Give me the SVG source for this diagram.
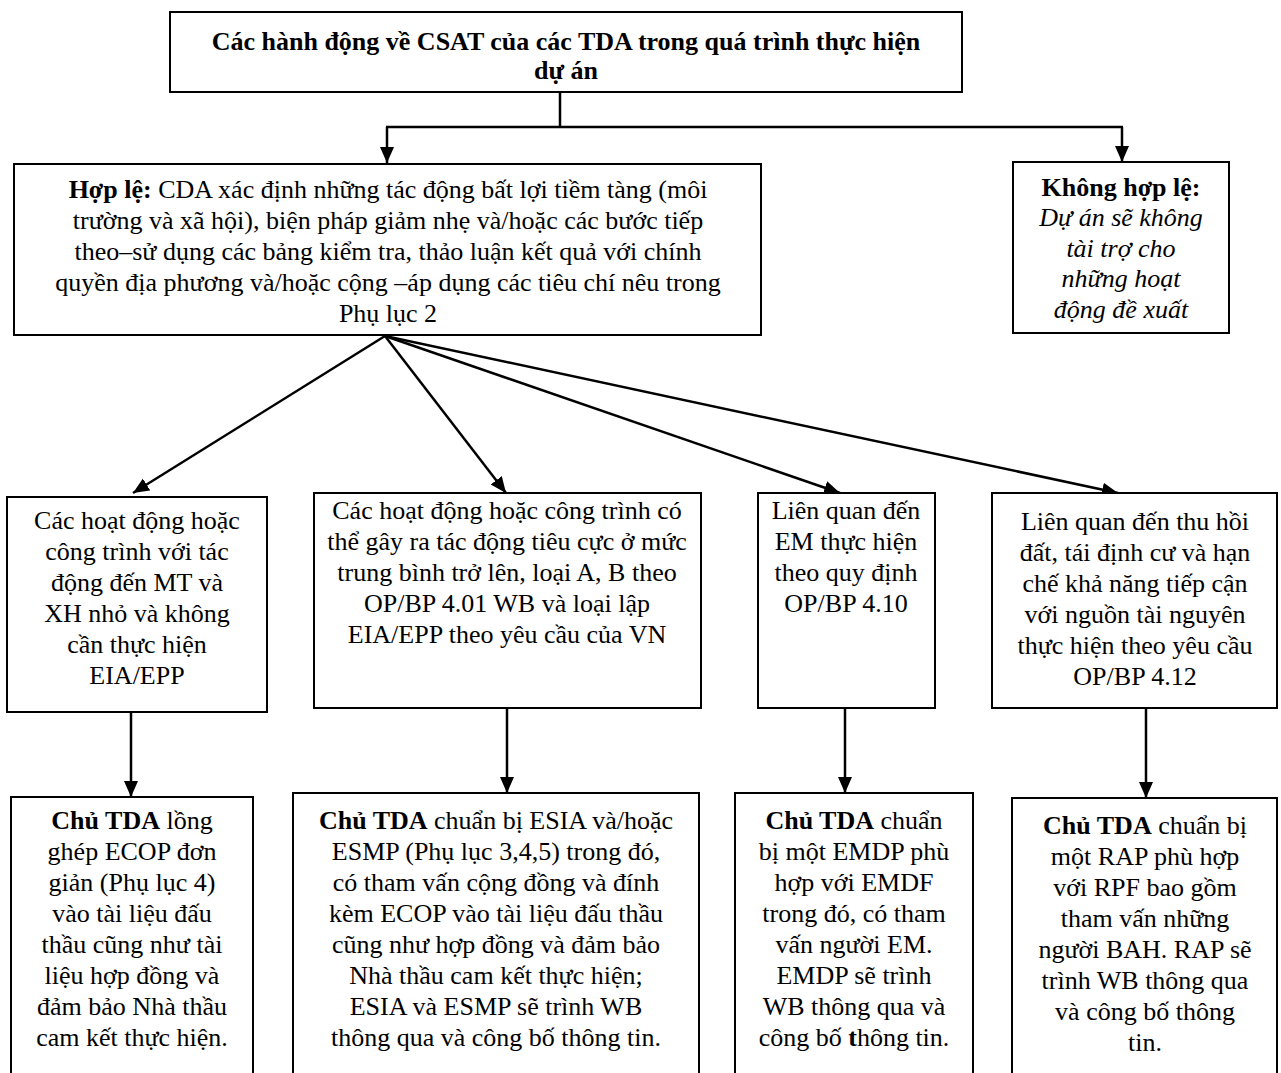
<svg xmlns="http://www.w3.org/2000/svg" width="1281" height="1073" viewBox="0 0 1281 1073">
<style>
.box{fill:#fff;stroke:#000;stroke-width:2}
.t{font-family:"Liberation Serif","Times New Roman",serif;font-size:26px;fill:#000;text-anchor:middle}
.b{font-weight:bold}
.i{font-style:italic}
.c{fill:none;stroke:#000;stroke-width:2.5}
</style>
<defs>
<marker id="ah" markerUnits="userSpaceOnUse" markerWidth="17" markerHeight="15" refX="16" refY="7" orient="auto">
<path d="M0,0 L16,7 L0,14 Z" fill="#000"/>
</marker>
</defs>
<rect width="1281" height="1073" fill="#fff"/>

<g id="connectors">
<line class="c" x1="560" y1="92" x2="560" y2="127"/>
<line class="c" x1="386" y1="127" x2="1123" y2="127"/>
<line class="c" x1="387" y1="127" x2="387" y2="163" marker-end="url(#ah)"/>
<line class="c" x1="1122" y1="127" x2="1122" y2="162" marker-end="url(#ah)"/>
<line class="c" x1="385" y1="336" x2="133" y2="493" marker-end="url(#ah)"/>
<line class="c" x1="385" y1="336" x2="506" y2="493" marker-end="url(#ah)"/>
<line class="c" x1="385" y1="336" x2="840" y2="493" marker-end="url(#ah)"/>
<line class="c" x1="385" y1="336" x2="1118" y2="493" marker-end="url(#ah)"/>
<line class="c" x1="131" y1="704" x2="131" y2="797" marker-end="url(#ah)"/>
<line class="c" x1="507" y1="708" x2="507" y2="793" marker-end="url(#ah)"/>
<line class="c" x1="845" y1="705" x2="845" y2="793" marker-end="url(#ah)"/>
<line class="c" x1="1146" y1="708" x2="1146" y2="798" marker-end="url(#ah)"/>
</g>

<g id="top">
<rect class="box" x="170" y="12" width="792" height="80"/>
<text class="t b" x="566" y="50">Các hành động về CSAT của các TDA trong quá trình thực hiện</text>
<text class="t b" x="566" y="79">dự án</text>
</g>

<g id="hople">
<rect class="box" x="14" y="164" width="747" height="171"/>
<text class="t" x="388" y="198"><tspan class="b">Hợp lệ:</tspan> CDA xác định những tác động bất lợi tiềm tàng (môi</text>
<text class="t" x="388" y="229">trường và xã hội), biện pháp giảm nhẹ và/hoặc các bước tiếp</text>
<text class="t" x="388" y="260">theo–sử dụng các bảng kiểm tra, thảo luận kết quả với chính</text>
<text class="t" x="388" y="291">quyền địa phương và/hoặc cộng –áp dụng các tiêu chí nêu trong</text>
<text class="t" x="388" y="322">Phụ lục 2</text>
</g>

<g id="khonghople">
<rect class="box" x="1013" y="162" width="216" height="171"/>
<text class="t b" x="1121" y="196">Không hợp lệ:</text>
<text class="t i" x="1121" y="226">Dự án sẽ không</text>
<text class="t i" x="1121" y="257">tài trợ cho</text>
<text class="t i" x="1121" y="287">những hoạt</text>
<text class="t i" x="1121" y="318">động đề xuất</text>
</g>

<g id="boxA">
<rect class="box" x="7" y="497" width="260" height="215"/>
<text class="t" x="137" y="529">Các hoạt động hoặc</text>
<text class="t" x="137" y="560">công trình với tác</text>
<text class="t" x="137" y="591">động đến MT và</text>
<text class="t" x="137" y="622">XH nhỏ và không</text>
<text class="t" x="137" y="653">cần thực hiện</text>
<text class="t" x="137" y="684">EIA/EPP</text>
</g>

<g id="boxB">
<rect class="box" x="314" y="493" width="387" height="215"/>
<text class="t" x="507" y="519">Các hoạt động hoặc công trình có</text>
<text class="t" x="507" y="550">thể gây ra tác động tiêu cực ở mức</text>
<text class="t" x="507" y="581">trung bình trở lên, loại A, B theo</text>
<text class="t" x="507" y="612">OP/BP 4.01 WB và loại lập</text>
<text class="t" x="507" y="643">EIA/EPP theo yêu cầu của VN</text>
</g>

<g id="boxC">
<rect class="box" x="758" y="493" width="177" height="215"/>
<text class="t" x="846" y="519">Liên quan đến</text>
<text class="t" x="846" y="550">EM thực hiện</text>
<text class="t" x="846" y="581">theo quy định</text>
<text class="t" x="846" y="612">OP/BP 4.10</text>
</g>

<g id="boxD">
<rect class="box" x="992" y="493" width="285" height="215"/>
<text class="t" x="1135" y="530">Liên quan đến thu hồi</text>
<text class="t" x="1135" y="561">đất, tái định cư và hạn</text>
<text class="t" x="1135" y="592">chế khả năng tiếp cận</text>
<text class="t" x="1135" y="623">với nguồn tài nguyên</text>
<text class="t" x="1135" y="654">thực hiện theo yêu cầu</text>
<text class="t" x="1135" y="685">OP/BP 4.12</text>
</g>

<g id="boxA2">
<rect class="box" x="11" y="797" width="242" height="290"/>
<text class="t" x="132" y="829"><tspan class="b">Chủ TDA</tspan> lồng</text>
<text class="t" x="132" y="860">ghép ECOP đơn</text>
<text class="t" x="132" y="891">giản (Phụ lục 4)</text>
<text class="t" x="132" y="922">vào tài liệu đấu</text>
<text class="t" x="132" y="953">thầu cũng như tài</text>
<text class="t" x="132" y="984">liệu hợp đồng và</text>
<text class="t" x="132" y="1015">đảm bảo Nhà thầu</text>
<text class="t" x="132" y="1046">cam kết thực hiện.</text>
</g>

<g id="boxB2">
<rect class="box" x="293" y="793" width="406" height="294"/>
<text class="t" x="496" y="829"><tspan class="b">Chủ TDA</tspan> chuẩn bị ESIA và/hoặc</text>
<text class="t" x="496" y="860">ESMP (Phụ lục 3,4,5) trong đó,</text>
<text class="t" x="496" y="891">có tham vấn cộng đồng và đính</text>
<text class="t" x="496" y="922">kèm ECOP vào tài liệu đấu thầu</text>
<text class="t" x="496" y="953">cũng như hợp đồng và đảm bảo</text>
<text class="t" x="496" y="984">Nhà thầu cam kết thực hiện;</text>
<text class="t" x="496" y="1015">ESIA và ESMP sẽ trình WB</text>
<text class="t" x="496" y="1046">thông qua và công bố thông tin.</text>
</g>

<g id="boxC2">
<rect class="box" x="735" y="793" width="238" height="294"/>
<text class="t" x="854" y="829"><tspan class="b">Chủ TDA</tspan> chuẩn</text>
<text class="t" x="854" y="860">bị một EMDP phù</text>
<text class="t" x="854" y="891">hợp với EMDF</text>
<text class="t" x="854" y="922">trong đó, có tham</text>
<text class="t" x="854" y="953">vấn người EM.</text>
<text class="t" x="854" y="984">EMDP sẽ trình</text>
<text class="t" x="854" y="1015">WB thông qua và</text>
<text class="t" x="854" y="1046">công bố <tspan class="b">t</tspan>hông tin.</text>
</g>

<g id="boxD2">
<rect class="box" x="1012" y="798" width="265" height="289"/>
<text class="t" x="1145" y="834"><tspan class="b">Chủ TDA</tspan> chuẩn bị</text>
<text class="t" x="1145" y="865">một RAP phù hợp</text>
<text class="t" x="1145" y="896">với RPF bao gồm</text>
<text class="t" x="1145" y="927">tham vấn những</text>
<text class="t" x="1145" y="958">người BAH. RAP sẽ</text>
<text class="t" x="1145" y="989">trình WB thông qua</text>
<text class="t" x="1145" y="1020">và công bố thông</text>
<text class="t" x="1145" y="1051">tin.</text>
</g>
</svg>
